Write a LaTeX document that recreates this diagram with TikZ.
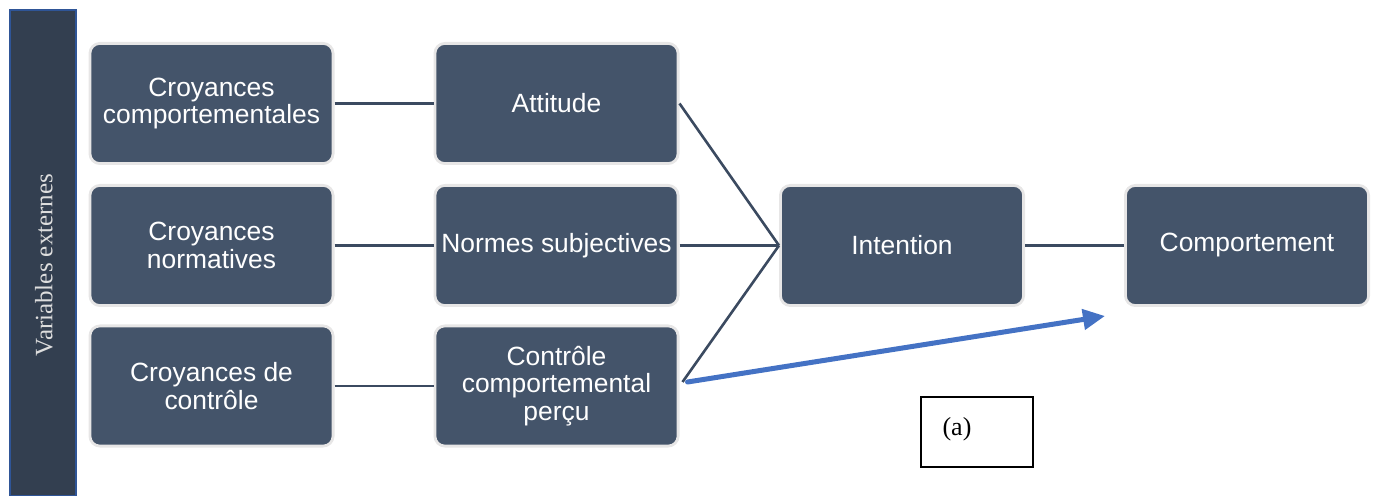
\documentclass[tikz,border=0pt]{standalone}
\usepackage{fontspec}
\setmainfont{Liberation Sans}
\newfontfamily\serifA{Liberation Serif}
\usetikzlibrary{arrows.meta}
\definecolor{boxA}  {RGB}{68, 84, 106}
\definecolor{edgeA} {RGB}{231, 230, 230}
\definecolor{barA}  {RGB}{51, 63, 80}
\definecolor{barEdge}{RGB}{47, 85, 151}
\definecolor{lineA} {RGB}{59, 74, 96}
\definecolor{blueA} {RGB}{68, 114, 196}
\definecolor{textA} {RGB}{222, 222, 222}

\tikzset{
  block/.style={draw=edgeA, fill=boxA, line width=1.4pt, rounded corners=5pt,
    minimum width=121.6pt, minimum height=60.1pt, inner sep=1pt,
    text=white, align=center, font=\fontsize{13.2}{13.6}\selectfont},
  link/.style={draw=lineA, line width=1.3pt},
}

\begin{document}
\begin{tikzpicture}[x=0.5pt, y=-0.5pt]
  \useasboundingbox (0,0) rectangle (1375,496);

  \path[draw=barEdge, fill=barA, line width=1pt] (10,10) rectangle (76,496);
  \node[rotate=90, text=textA, font=\serifA\fontsize{12.5}{13}\selectfont] (ext) at (44,265) {Variables externes};

  \node[block] (cb)   at (211.5, 103.5) {Croyances\\comportementales};
  \node[block] (cn)   at (211.5, 245.5) {Croyances\\normatives};
  \node[block] (cc)   at (211.5, 386)   {Croyances de\\contrôle};

  \node[block] (att)  at (556.5, 103.5) {Attitude};
  \node[block] (ns)   at (556.5, 245.5) {Normes subjectives};
  \node[block] (cbp)  at (556.5, 386)   {Contrôle\\comportemental\\perçu};

  \node[block] (int)  at (902, 245.5)   {Intention};
  \node[block] (comp) at (1247, 245.5)  {Comportement};

  \draw[link] (cb.east) -- (att.west);
  \draw[link] (cn.east) -- (ns.west);
  \draw[link] (cc.east) -- (cbp.west);
  \draw[link] (att.east) -- (int.west);
  \draw[link] (ns.east) -- (int.west);
  \draw[link] ([xshift=1.5pt, yshift=2pt]cbp.east) -- (int.west);
  \draw[link] (int.east) -- (comp.west);

  \coordinate (tip) at (1105, 316);
  \draw[blueA, line width=2.5pt, line cap=round, -{Triangle[length=11pt, width=10pt]}]
    ([xshift=4pt, yshift=2pt]cbp.east) -- (tip);

  \draw[black, line width=0.6pt] (921,397) rectangle (1033,467);
  \node[font=\serifA\fontsize{13}{14}\selectfont] (lab) at (957,429) {(a)};

\end{tikzpicture}
\end{document}
